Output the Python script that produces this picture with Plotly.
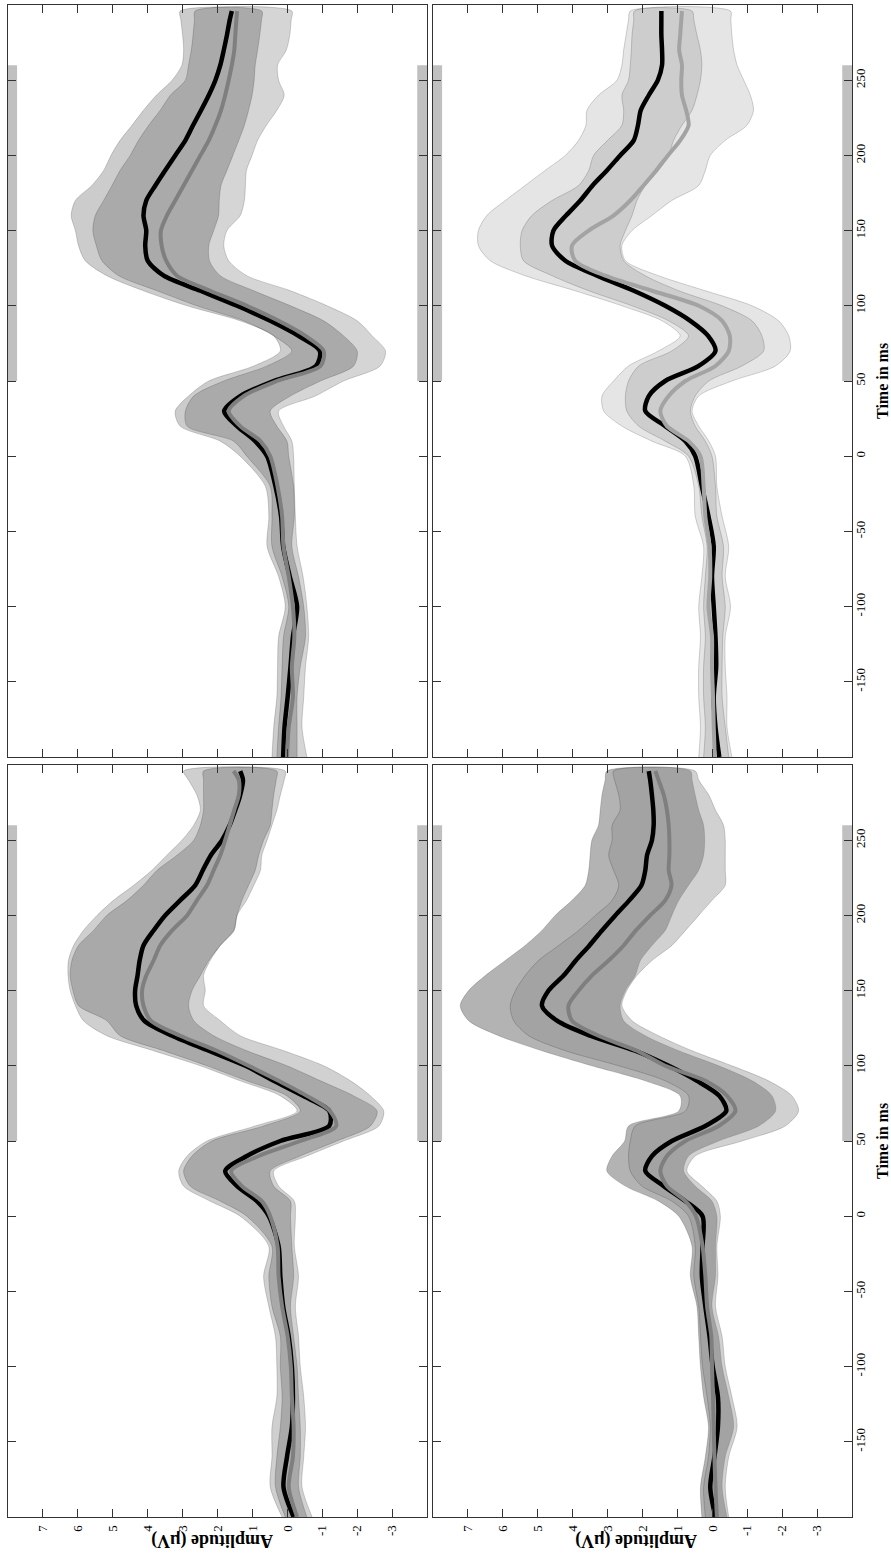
import plotly.graph_objects as go

# ---------------- data ----------------
time_ms = [-200, -180, -160, -140, -120, -100, -80, -60, -40, -20,
           0, 10, 20, 30, 40, 50, 60, 70, 80, 90,
           100, 110, 120, 130, 140, 150, 160, 170, 180, 190,
           200, 210, 220, 230, 240, 250, 260, 270, 280, 290, 296]

amp_ticks = [7, 6, 5, 4, 3, 2, 1, 0, -1, -2, -3]
time_ticks = [-150, -100, -50, 0, 50, 100, 150, 200, 250]

# ---- top-left panel ----
tl_black = [0.12, 0.08, -0.01, -0.09, -0.16, -0.28, -0.07, 0.12, 0.18, 0.34,
            0.58, 0.92, 1.44, 1.81, 1.35, 0.39, -0.82, -0.93, -0.32, 0.49,
            1.44, 2.49, 3.54, 4.00, 4.07, 4.04, 4.12, 4.04, 3.78, 3.50,
            3.21, 2.92, 2.70, 2.47, 2.25, 2.06, 1.92, 1.82, 1.73, 1.65, 1.59]
tl_gray = [0.01, -0.04, -0.16, -0.13, -0.20, -0.16, -0.04, 0.11, 0.15, 0.28,
           0.49, 0.77, 1.35, 1.68, 1.25, 0.30, -0.95, -1.04, -0.52, 0.25,
           1.16, 2.21, 3.16, 3.47, 3.60, 3.62, 3.45, 3.21, 2.97, 2.73,
           2.49, 2.25, 2.06, 1.90, 1.78, 1.68, 1.59, 1.52, 1.49, 1.46, 1.44]
tl_black_hi = [0.44, 0.39, 0.30, 0.28, 0.25, 0.06, 0.25, 0.58, 0.53, 0.63,
               1.35, 1.92, 3.07, 3.21, 2.83, 2.25, 0.96, 0.20, 0.39, 1.35,
               2.87, 4.12, 5.17, 5.79, 5.98, 6.07, 6.19, 6.07, 5.60, 5.26,
               5.05, 4.79, 4.45, 4.12, 3.75, 3.30, 3.02, 2.97, 3.00, 3.05, 3.07]
tl_black_lo = [-0.28, -0.28, -0.28, -0.37, -0.52, -0.47, -0.32, -0.13, -0.20, -0.18,
               -0.04, 0.01, 0.30, 0.49, -0.09, -0.95, -1.90, -2.00, -1.61, -1.04,
               -0.09, 0.96, 1.92, 2.23, 2.25, 2.11, 1.97, 1.95, 1.90, 1.73,
               1.56, 1.39, 1.23, 1.11, 1.01, 0.95, 0.92, 0.85, 0.79, 0.74, 0.73]
tl_gray_hi = [0.30, 0.25, 0.18, 0.15, 0.11, -0.04, 0.15, 0.44, 0.44, 0.49,
              1.16, 1.54, 2.87, 2.92, 2.68, 1.82, 0.58, -0.13, 0.39, 1.25,
              2.59, 3.73, 4.83, 5.31, 5.47, 5.57, 5.50, 5.26, 5.02, 4.79,
              4.50, 4.26, 3.97, 3.64, 3.35, 2.92, 2.83, 2.75, 2.70, 2.66, 2.64]
tl_gray_lo = [-0.56, -0.42, -0.47, -0.52, -0.61, -0.56, -0.45, -0.28, -0.23, -0.20,
              -0.18, -0.13, 0.11, 0.25, -0.80, -1.61, -2.66, -2.81, -2.43, -2.00,
              -1.14, -0.09, 1.16, 1.68, 1.82, 1.73, 1.35, 1.23, 1.20, 1.17,
              1.01, 0.85, 0.60, 0.30, 0.09, 0.25, 0.28, 0.03, -0.07, -0.11, -0.13]

# ---- top-right panel ----
tr_black = [-0.20, -0.09, -0.04, -0.11, -0.09, -0.04, 0.01, -0.04, 0.11, 0.30,
            0.49, 0.77, 1.35, 1.92, 1.82, 1.35, 0.39, -0.09, 0.12, 0.63,
            1.35, 2.25, 3.30, 4.21, 4.59, 4.55, 4.19, 3.78, 3.43, 3.02,
            2.64, 2.25, 2.13, 2.05, 1.82, 1.56, 1.44, 1.44, 1.46, 1.46, 1.46]
tr_gray = [-0.07, -0.04, -0.02, 0.01, 0.01, 0.11, 0.06, 0.08, 0.20, 0.25,
           0.34, 0.68, 1.30, 1.49, 1.25, 0.77, -0.09, -0.47, -0.50, -0.28,
           0.39, 1.73, 3.07, 3.93, 4.02, 3.54, 2.83, 2.35, 1.97, 1.61,
           1.27, 0.92, 0.68, 0.75, 0.87, 0.89, 0.87, 0.95, 0.92, 0.89, 0.87]
tr_black_hi = [0.39, 0.34, 0.39, 0.39, 0.34, 0.39, 0.30, 0.25, 0.49, 0.53,
               0.77, 1.73, 2.59, 3.11, 3.16, 2.83, 2.40, 1.54, 0.92, 1.44,
               2.59, 3.93, 5.36, 6.36, 6.70, 6.70, 6.46, 5.93, 5.36, 4.79,
               4.21, 3.83, 3.62, 3.59, 3.26, 2.73, 2.59, 2.54, 2.47, 2.40, 2.35]
tr_black_lo = [-0.47, -0.37, -0.28, -0.28, -0.30, -0.37, -0.28, -0.32, -0.13, -0.09,
               0.01, 0.20, 0.49, 0.63, 0.49, 0.10, -0.85, -1.47, -1.42, -1.14,
               -0.28, 0.96, 1.92, 2.54, 2.64, 2.49, 2.30, 2.16, 1.92, 1.54,
               1.25, 1.11, 0.87, 0.58, 0.44, 0.34, 0.30, 0.34, 0.44, 0.53, 0.58]
tr_gray_hi = [0.25, 0.20, 0.25, 0.25, 0.20, 0.25, 0.20, 0.15, 0.30, 0.39,
              0.68, 1.35, 2.11, 2.45, 2.49, 2.40, 2.11, 1.16, 0.68, 1.25,
              2.30, 3.54, 4.59, 5.41, 5.50, 5.45, 5.17, 4.59, 3.83, 3.54,
              3.40, 3.00, 2.59, 2.54, 2.59, 2.40, 2.35, 2.32, 2.30, 2.25, 2.23]
tr_gray_lo = [-0.56, -0.42, -0.42, -0.37, -0.37, -0.52, -0.37, -0.47, -0.28, -0.13,
              -0.09, 0.10, 0.39, 0.58, 0.39, -0.56, -1.81, -2.23, -2.19, -1.90,
              -1.14, 0.20, 1.54, 2.49, 2.59, 2.30, 1.73, 1.16, 0.39, 0.20,
              0.06, -0.37, -0.99, -1.18, -1.09, -0.90, -0.71, -0.61, -0.56, -0.53, -0.52]

# ---- bottom-left panel ----
bl_black = [-0.18, 0.11, 0.01, -0.13, -0.16, -0.13, -0.04, 0.12, 0.20, 0.25,
            0.53, 0.87, 1.44, 1.78, 1.16, 0.20, -1.20, -1.20, -0.45, 0.39,
            1.20, 2.25, 3.30, 4.10, 4.33, 4.36, 4.29, 4.23, 4.12, 3.83,
            3.50, 3.07, 2.64, 2.42, 2.19, 1.87, 1.65, 1.49, 1.35, 1.27, 1.35]
bl_gray = [-0.28, -0.04, -0.16, -0.18, -0.13, -0.10, -0.01, 0.15, 0.25, 0.28,
           0.49, 0.73, 1.30, 1.61, 0.82, -0.37, -1.40, -1.22, -0.56, 0.25,
           1.11, 2.02, 3.07, 3.91, 4.12, 4.16, 4.04, 3.83, 3.64, 3.30,
           2.87, 2.59, 2.30, 2.11, 1.92, 1.78, 1.65, 1.52, 1.39, 1.39, 1.54]
bl_black_hi = [0.15, 0.49, 0.44, 0.44, 0.30, 0.30, 0.34, 0.53, 0.68, 0.53,
               1.35, 2.21, 2.97, 3.11, 2.87, 2.30, 0.92, -0.28, 0.20, 1.35,
               2.49, 3.83, 5.17, 5.84, 6.07, 6.22, 6.28, 6.27, 6.12, 5.84,
               5.45, 4.98, 4.40, 3.88, 3.45, 3.02, 2.68, 2.49, 2.59, 2.83, 2.97]
bl_black_lo = [-0.56, -0.32, -0.37, -0.37, -0.32, -0.28, -0.18, -0.09, -0.18, -0.13,
               -0.09, -0.09, 0.39, 0.49, -0.37, -1.42, -2.38, -2.57, -1.90, -0.95,
               0.01, 1.16, 2.11, 2.68, 2.83, 2.73, 2.49, 2.25, 1.92, 1.54,
               1.44, 1.30, 1.11, 0.92, 0.82, 0.68, 0.49, 0.44, 0.39, 0.32, 0.30]
bl_gray_hi = [0.06, 0.34, 0.30, 0.20, 0.15, 0.20, 0.20, 0.44, 0.53, 0.44,
              1.16, 1.92, 2.78, 2.97, 2.73, 2.16, 0.68, -0.37, 0.01, 1.16,
              2.30, 3.54, 4.79, 5.17, 5.98, 6.14, 6.22, 6.17, 5.98, 5.55,
              5.17, 4.59, 4.12, 3.73, 3.16, 2.68, 2.49, 2.40, 2.40, 2.40, 2.40]
bl_gray_lo = [-0.71, -0.42, -0.47, -0.52, -0.47, -0.37, -0.32, -0.23, -0.32, -0.20,
              -0.23, -0.20, 0.25, 0.39, -0.56, -1.61, -2.62, -2.76, -2.38, -1.81,
              -1.04, 0.10, 1.35, 1.92, 2.40, 2.35, 2.40, 2.21, 1.92, 1.52,
              1.44, 1.17, 0.96, 0.77, 0.73, 0.58, 0.44, 0.30, 0.20, 0.09, 0.06]

# ---- bottom-right panel ----
br_black = [-0.09, 0.06, -0.06, -0.16, -0.16, -0.01, 0.08, 0.20, 0.30, 0.28,
            0.28, 0.77, 1.39, 1.92, 1.73, 1.16, 0.20, -0.40, -0.20, 0.44,
            1.25, 2.21, 3.50, 4.45, 4.88, 4.69, 4.26, 3.91, 3.52, 3.16,
            2.78, 2.38, 2.03, 1.92, 1.87, 1.73, 1.68, 1.69, 1.73, 1.78, 1.82]
br_gray = [-0.13, -0.09, -0.06, -0.04, -0.02, 0.01, 0.03, 0.15, 0.20, 0.28,
           0.47, 0.77, 1.30, 1.49, 1.30, 0.77, -0.18, -0.66, -0.42, 0.20,
           1.35, 2.16, 3.26, 4.02, 4.12, 3.83, 3.45, 2.97, 2.54, 2.19,
           1.78, 1.35, 1.17, 1.25, 1.23, 1.23, 1.25, 1.30, 1.39, 1.54, 1.63]
br_black_hi = [0.30, 0.34, 0.20, 0.11, 0.25, 0.34, 0.39, 0.44, 0.63, 0.58,
               0.96, 1.54, 2.49, 3.02, 2.87, 2.51, 2.40, 0.96, 0.92, 1.92,
               3.45, 4.88, 6.12, 6.98, 7.22, 6.98, 6.50, 5.93, 5.36, 4.88,
               4.50, 4.02, 3.64, 3.54, 3.50, 3.45, 3.26, 3.21, 3.16, 3.07, 3.02]
br_black_lo = [-0.42, -0.28, -0.37, -0.61, -0.47, -0.28, -0.18, 0.01, -0.09, -0.09,
               -0.13, 0.01, 0.49, 0.82, 0.68, -0.18, -1.33, -1.81, -1.71, -1.14,
               -0.18, 0.96, 1.92, 2.54, 2.64, 2.49, 2.21, 2.06, 1.73, 1.35,
               1.16, 0.96, 0.68, 0.39, 0.25, 0.22, 0.25, 0.39, 0.49, 0.58, 0.63]
br_gray_hi = [0.20, 0.25, 0.11, 0.06, 0.15, 0.28, 0.34, 0.39, 0.53, 0.49,
              0.68, 1.16, 2.02, 2.35, 2.40, 2.35, 2.21, 0.77, 0.68, 1.35,
              2.68, 4.21, 5.26, 5.69, 5.79, 5.64, 5.36, 4.98, 4.40, 3.83,
              3.35, 2.87, 2.68, 2.83, 2.97, 2.87, 2.87, 2.64, 2.68, 2.80, 2.83]
br_gray_lo = [-0.47, -0.37, -0.47, -0.71, -0.56, -0.37, -0.28, -0.09, -0.16, -0.13,
              -0.23, -0.13, 0.30, 0.73, 0.49, -0.85, -2.09, -2.47, -2.28, -1.61,
              -0.56, 0.58, 1.54, 2.30, 2.59, 2.45, 2.16, 1.73, 1.16, 0.77,
              0.39, 0.01, -0.37, -0.37, -0.37, -0.37, -0.32, -0.09, 0.10, 0.39, 0.49]

window_ms = [50, 260]   # shaded analysis window

# ---------------- layout geometry ----------------
W, H = 891, 1557
def px_x(a, b):
    return [a / W, b / W]
def px_y(top, bottom):
    return [1 - bottom / H, 1 - top / H]

panels = [
    dict(xd=px_x(8, 427), yd=px_y(5, 757),
         black=tl_black, gray=tl_gray,
         bhi=tl_black_hi, blo=tl_black_lo, ghi=tl_gray_hi, glo=tl_gray_lo,
         bfill="rgba(0,0,0,0.20)", gfill="rgba(0,0,0,0.165)", gline="#7f7f7f",
         xlab=False, ylab=False),
    dict(xd=px_x(433, 852), yd=px_y(5, 757),
         black=tr_black, gray=tr_gray,
         bhi=tr_black_hi, blo=tr_black_lo, ghi=tr_gray_hi, glo=tr_gray_lo,
         bfill="rgba(0,0,0,0.10)", gfill="rgba(0,0,0,0.10)", gline="#a3a3a3",
         xlab=False, ylab=True),
    dict(xd=px_x(8, 427), yd=px_y(765, 1517),
         black=bl_black, gray=bl_gray,
         bhi=bl_black_hi, blo=bl_black_lo, ghi=bl_gray_hi, glo=bl_gray_lo,
         bfill="rgba(0,0,0,0.19)", gfill="rgba(0,0,0,0.18)", gline="#7f7f7f",
         xlab=True, ylab=False),
    dict(xd=px_x(433, 852), yd=px_y(765, 1517),
         black=br_black, gray=br_gray,
         bhi=br_black_hi, blo=br_black_lo, ghi=br_gray_hi, glo=br_gray_lo,
         bfill="rgba(140,140,140,0.66)", gfill="rgba(140,140,140,0.40)", gline="#7f7f7f",
         xlab=True, ylab=True),
]

fig = go.Figure()
serif = "Liberation Serif, Times New Roman, serif"
axis_col = "#333333"

for i, p in enumerate(panels, start=1):
    xa = "x" if i == 1 else f"x{i}"
    ya = "y" if i == 1 else f"y{i}"
    rev_t = time_ms[::-1]
    for hi, lo, col in ((p["bhi"], p["blo"], p["bfill"]), (p["ghi"], p["glo"], p["gfill"])):
        fig.add_trace(go.Scatter(
            x=hi + lo[::-1], y=time_ms + rev_t, xaxis=xa, yaxis=ya,
            mode="lines", fill="toself", fillcolor=col,
            line=dict(color="rgba(0,0,0,0.22)", width=0.8, shape="spline", smoothing=0.8),
            hoverinfo="skip", showlegend=False))
    fig.add_trace(go.Scatter(x=p["black"], y=time_ms, xaxis=xa, yaxis=ya, mode="lines",
                             line=dict(color="black", width=4.5, shape="spline", smoothing=0.8),
                             showlegend=False))
    fig.add_trace(go.Scatter(x=p["gray"], y=time_ms, xaxis=xa, yaxis=ya, mode="lines",
                             line=dict(color=p["gline"], width=4, shape="spline", smoothing=0.8),
                             showlegend=False))

    common = dict(ticks="inside", ticklen=8, tickwidth=1, tickcolor=axis_col,
                  showline=True, linecolor=axis_col, linewidth=1, mirror="allticks",
                  showgrid=False, zeroline=False, tickangle=-90, automargin=False,
                  tickfont=dict(family=serif, size=13, color="black"))
    fig.update_layout(**{
        ("xaxis" if i == 1 else f"xaxis{i}"): dict(
            domain=p["xd"], range=[8, -4], anchor=ya,
            tickvals=amp_ticks, ticktext=[str(v) for v in amp_ticks],
            showticklabels=p["xlab"], ticklabelstandoff=2, **common),
        ("yaxis" if i == 1 else f"yaxis{i}"): dict(
            domain=p["yd"], range=[-200, 300], anchor=xa, side="right",
            tickvals=time_ticks, ticktext=[str(v) for v in time_ticks],
            showticklabels=p["ylab"], ticklabelstandoff=-4, **common),
    })
    for x0, x1 in ((8, 7.74), (-3.72, -4)):
        fig.add_shape(type="rect", xref=xa, yref=ya, x0=x0, x1=x1,
                      y0=window_ms[0], y1=window_ms[1],
                      fillcolor="#c0c0c0", line=dict(width=0), layer="below")

annots = []
for cx in (212, 636):
    annots.append(dict(text="<b>Amplitude (µV)</b>", x=cx / W, y=1 - 1541 / H,
                       xref="paper", yref="paper", xanchor="center", yanchor="middle",
                       showarrow=False, textangle=180,
                       font=dict(family=serif, size=18, color="black")))
for cy in (381, 1141):
    annots.append(dict(text="<b>Time in ms</b>", x=882 / W, y=1 - cy / H,
                       xref="paper", yref="paper", xanchor="center", yanchor="middle",
                       showarrow=False, textangle=-90,
                       font=dict(family=serif, size=16, color="black")))

fig.update_layout(width=W, height=H, margin=dict(l=0, r=0, t=0, b=0),
                  paper_bgcolor="white", plot_bgcolor="white", showlegend=False,
                  annotations=annots)

fig.write_html("out.html", config={"displayModeBar": False},
               post_script="document.body.style.margin='0px';")
